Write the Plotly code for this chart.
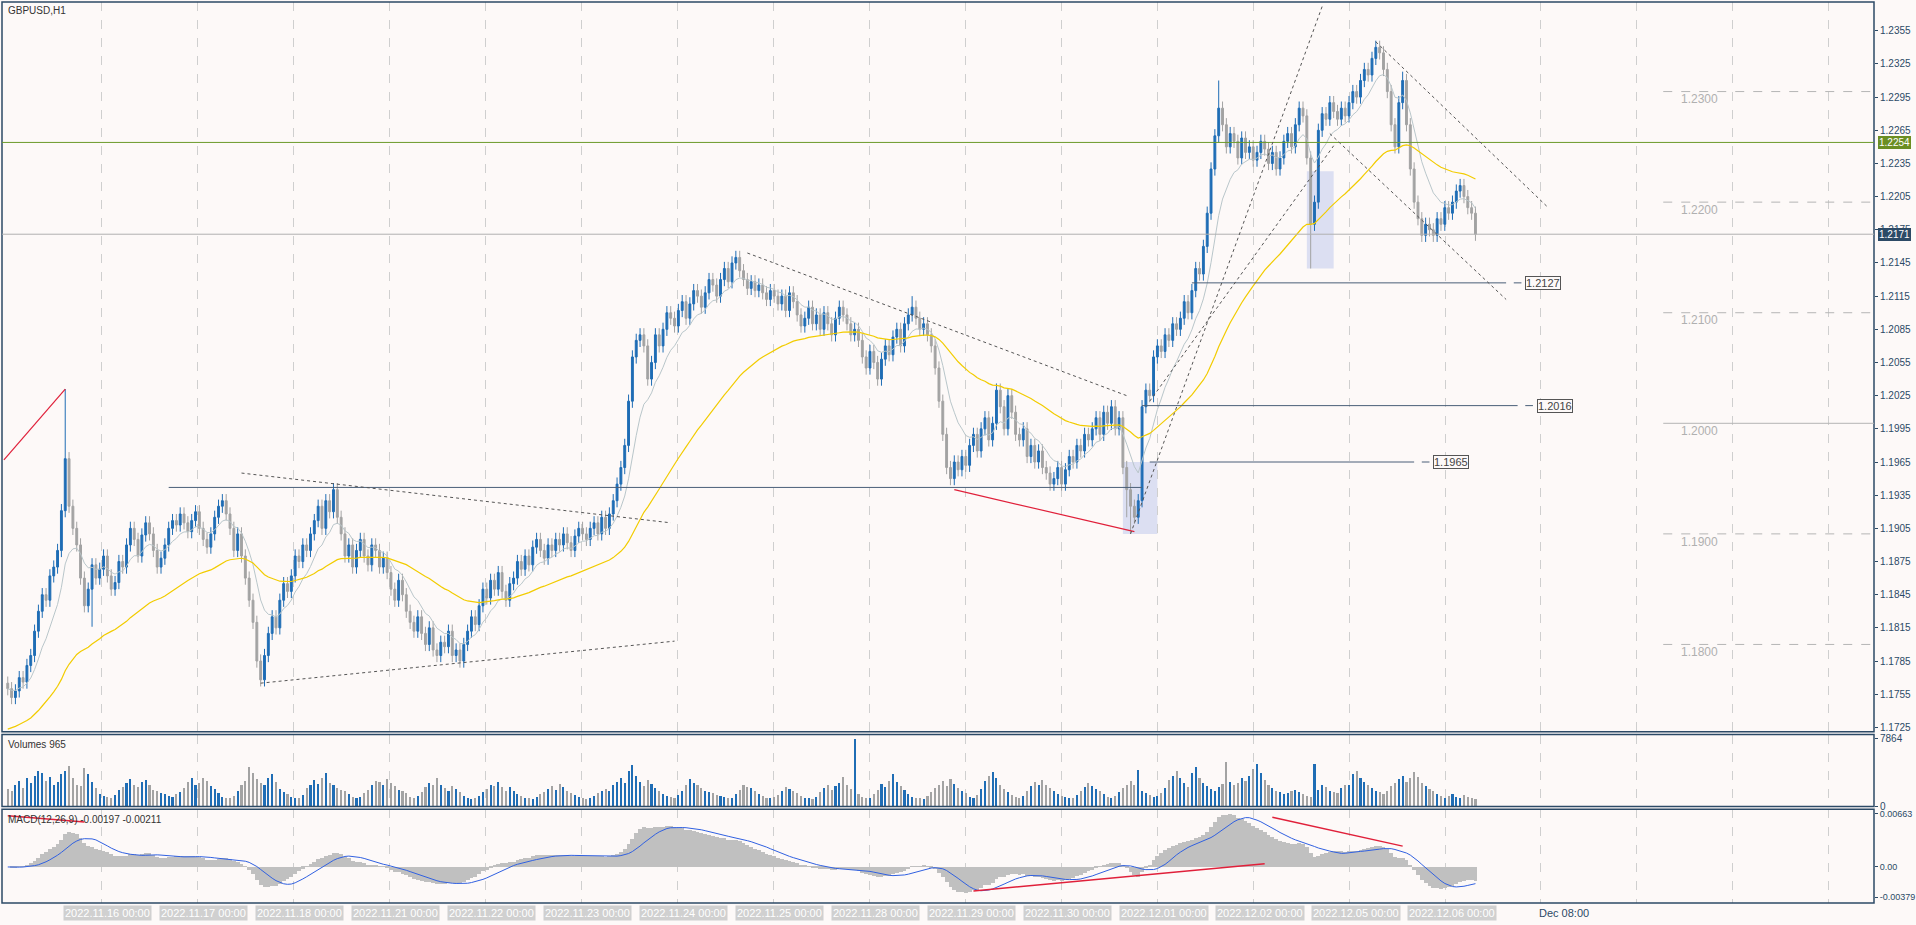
import plotly.graph_objects as go
import pandas as pd
import numpy as np

closes = [
1.1760,1.1752,1.1758,1.1770,1.1766,1.1781,1.1790,1.1812,1.1830,1.1845,1.1840,1.1862,
1.1870,1.1885,1.1921,1.1968,1.1925,1.1905,1.1890,1.1860,1.1835,1.1850,1.1872,1.1860,
1.1868,1.1880,1.1862,1.1850,1.1856,1.1875,1.1870,1.1890,1.1905,1.1895,1.1880,1.1899,
1.1910,1.1900,1.1885,1.1870,1.1878,1.1890,1.1905,1.1912,1.1908,1.1918,1.1910,1.1902,
1.1912,1.1920,1.1905,1.1895,1.1888,1.1900,1.1915,1.1925,1.1930,1.1918,1.1905,1.1885,
1.1900,1.1880,1.1860,1.1840,1.1820,1.1785,1.1768,1.1790,1.1810,1.1825,1.1815,1.1840,
1.1855,1.1848,1.1862,1.1880,1.1875,1.1890,1.1885,1.1900,1.1912,1.1925,1.1905,1.1930,
1.1920,1.1940,1.1915,1.1900,1.1880,1.1890,1.1870,1.1885,1.1895,1.1880,1.1872,1.1890,
1.1885,1.1870,1.1878,1.1865,1.1850,1.1840,1.1858,1.1845,1.1830,1.1820,1.1812,1.1825,
1.1810,1.1800,1.1815,1.1795,1.1790,1.1802,1.1798,1.1812,1.1790,1.1795,1.1785,1.1800,
1.1812,1.1825,1.1818,1.1835,1.1850,1.1842,1.1858,1.1850,1.1865,1.1848,1.1840,1.1855,
1.1860,1.1875,1.1868,1.1880,1.1872,1.1888,1.1895,1.1885,1.1878,1.1890,1.1885,1.1895,
1.1890,1.1900,1.1892,1.1885,1.1898,1.1905,1.1900,1.1895,1.1905,1.1910,1.1900,1.1915,
1.1905,1.1918,1.1930,1.1945,1.1960,1.1980,1.2020,1.2060,1.2075,1.2080,1.2070,1.2040,
1.2055,1.2080,1.2070,1.2085,1.2100,1.2095,1.2088,1.2102,1.2110,1.2095,1.2108,1.2120,
1.2115,1.2105,1.2118,1.2130,1.2125,1.2115,1.2130,1.2140,1.2128,1.2145,1.2150,1.2138,
1.2130,1.2122,1.2128,1.2120,1.2125,1.2118,1.2112,1.2120,1.2115,1.2108,1.2115,1.2102,
1.2118,1.2110,1.2098,1.2088,1.2095,1.2105,1.2090,1.2098,1.2085,1.2100,1.2090,1.2080,
1.2095,1.2105,1.2098,1.2090,1.2080,1.2085,1.2075,1.2060,1.2050,1.2065,1.2055,1.2040,
1.2058,1.2070,1.2062,1.2078,1.2085,1.2070,1.2090,1.2098,1.2105,1.2095,1.2085,1.2090,
1.2080,1.2070,1.2050,1.2020,1.1990,1.1960,1.1950,1.1965,1.1958,1.1970,1.1962,1.1980,
1.1990,1.1975,1.1995,1.2005,1.1985,1.2000,1.2030,1.2015,1.1995,1.2025,1.2010,1.1990,
1.1985,1.1995,1.1970,1.1980,1.1965,1.1975,1.1960,1.1955,1.1945,1.1950,1.1960,1.1945,
1.1958,1.1970,1.1965,1.1980,1.1975,1.1990,1.1985,1.1995,1.2005,1.1990,1.2010,1.2000,
1.2015,1.1995,1.2005,1.1960,1.1940,1.1925,1.1915,1.1930,1.2015,1.2030,1.2025,1.2060,
1.2070,1.2065,1.2080,1.2075,1.2090,1.2085,1.2095,1.2110,1.2100,1.2120,1.2140,1.2135,
1.2160,1.2190,1.2230,1.2260,1.2285,1.2270,1.2250,1.2262,1.2255,1.2240,1.2258,1.2245,
1.2250,1.2238,1.2245,1.2255,1.2248,1.2235,1.2245,1.2230,1.2240,1.2255,1.2262,1.2250,
1.2270,1.2285,1.2278,1.2240,1.2180,1.2200,1.2265,1.2280,1.2275,1.2290,1.2282,1.2275,
1.2285,1.2278,1.2290,1.2300,1.2295,1.2310,1.2320,1.2315,1.2330,1.2340,1.2335,1.2320,
1.2300,1.2270,1.2250,1.2290,1.2310,1.2270,1.2230,1.2200,1.2185,1.2170,1.2180,1.2175,
1.2170,1.2185,1.2180,1.2195,1.2190,1.2200,1.2210,1.2215,1.2205,1.2195,1.2190,1.2171,
]
first_open = 1.1765
high_spikes = {15: 1.2031, 190: 1.2155, 236: 1.2115, 316: 1.2310, 357: 1.2345, 364: 1.2318}
low_spikes = {22: 1.1816, 66: 1.1765, 118: 1.1780, 293: 1.1900, 340: 1.2140, 292: 1.1915}

volumes = [
2100,1800,2500,3000,2200,3400,2800,3600,4200,3900,3000,3500,
2600,2900,3800,4200,4700,3300,2600,2400,4500,3800,2900,2200,
1500,1300,1200,1100,1400,2000,2300,2800,3200,2600,2300,2900,
3100,2500,2000,1800,1600,1500,1300,1200,1500,1700,2200,2900,
3400,2600,2800,3300,3000,2400,2100,1600,1200,1100,1000,1300,
1800,2500,3000,4600,3900,3200,2800,2500,3300,3800,2900,2100,
1700,1500,1200,1000,1100,1400,2200,2600,3100,2700,3400,3900,
2800,2500,2200,2000,1800,1500,1200,1000,1200,1600,2000,2500,
3000,2900,2600,3200,2800,2400,2000,1900,1600,1200,1100,1300,
1700,2300,2800,2500,3300,2600,2200,1900,2400,2100,1700,1300,
1100,900,1000,1300,1700,2100,2600,2400,2900,2300,1900,2300,
1800,1500,1300,1100,1000,900,1200,1500,1700,2100,2400,2000,
2700,2300,1900,1600,1400,1200,1000,900,1100,1300,1600,1800,
2100,1900,2500,2900,3400,2800,4100,4800,3600,2900,2400,3100,
2700,2200,1800,1500,1300,1200,1100,1400,1900,2600,3200,2800,
2500,2200,1900,1700,1600,1400,1300,1200,1100,1000,1500,2000,
2500,2300,2200,1800,1500,1300,1100,1000,1200,1400,1800,2300,
2100,1900,1600,1300,1100,1000,900,1200,1700,2200,2600,2000,
2400,2800,3500,2500,2100,7864,1500,1200,1000,1100,1500,2000,
2700,2300,3000,3800,2900,2400,2000,1500,1200,1100,1000,900,
1300,1700,2200,2600,3000,2400,3200,2700,2200,1800,1600,1200,
1000,1400,2100,3000,3600,4000,3300,2600,2100,1700,1400,1200,
1100,1300,1900,2400,2900,2500,3100,2600,2200,1800,1500,1300,
1200,1100,1000,1400,1900,2300,2800,2400,2100,1800,1500,1200,
1100,1300,1700,2200,2600,3000,2500,4300,1800,1600,1400,1200,
1300,1600,2200,3100,3600,4200,3300,2800,2300,3900,4600,3400,
2800,2400,2100,1800,2300,2700,5200,2900,2500,2800,3400,3000,
3600,4400,5000,3900,3100,2600,2200,1900,1700,1500,1600,1800,
2000,1700,1500,1300,1200,5000,2000,2500,2300,1900,1700,1600,
2200,2600,2500,3800,4100,3400,2900,2600,2200,1900,1700,1500,
1900,2400,2800,3200,3600,2900,3300,4000,3500,2800,2400,2100,
1800,1500,1300,1100,1300,1500,1200,1000,1400,1200,1100,965,
]

day_labels = ["2022.11.16 00:00","2022.11.17 00:00","2022.11.18 00:00","2022.11.21 00:00",
              "2022.11.22 00:00","2022.11.23 00:00","2022.11.24 00:00","2022.11.25 00:00",
              "2022.11.28 00:00","2022.11.29 00:00","2022.11.30 00:00","2022.12.01 00:00",
              "2022.12.02 00:00","2022.12.05 00:00","2022.12.06 00:00"]
price_ticks = [round(1.1725 + 0.003*i, 4) for i in range(22)]
level_lines = [1.2300, 1.2200, 1.2100, 1.2000, 1.1900, 1.1800]

n = len(closes)
x = list(range(n))
opens = [first_open] + closes[:-1]
highs = [max(o, c) + 0.0006 for o, c in zip(opens, closes)]
lows = [min(o, c) - 0.0006 for o, c in zip(opens, closes)]
for k, v in high_spikes.items(): highs[k] = max(highs[k], v)
for k, v in low_spikes.items(): lows[k] = min(lows[k], v)

s = pd.Series(closes)
ma_fast = s.ewm(span=10, adjust=False).mean()
ma_slow = pd.Series([1.1722] * 30 + closes).ewm(span=50, adjust=False).mean().iloc[30:].reset_index(drop=True)
macd = s.ewm(span=12, adjust=False).mean() - s.ewm(span=26, adjust=False).mean()
signal = macd.rolling(9, min_periods=1).mean()

BG = "#fdf9f8"
AX = "#2c4a66"
BLUE = "#1f6db5"
GRAY = "#a3a3a3"
FONT = "Liberation Sans"

fig = go.Figure()
main_dom = [0.190, 1.0]
vol_dom = [0.107, 0.187]
macd_dom = [0.0, 0.104]
XR = [-1.5, 487]
STEP = 25.04

fig.add_trace(go.Candlestick(x=x, open=opens, high=highs, low=lows, close=closes,
    increasing=dict(line=dict(color=BLUE, width=1), fillcolor=BLUE),
    decreasing=dict(line=dict(color=GRAY, width=1), fillcolor=GRAY),
    whiskerwidth=0, showlegend=False, hoverinfo="skip", xaxis="x", yaxis="y"))
fig.add_trace(go.Scatter(x=x, y=ma_fast, mode="lines", line=dict(color="#b9c6ca", width=1),
    showlegend=False, hoverinfo="skip", xaxis="x", yaxis="y"))
fig.add_trace(go.Scatter(x=x, y=ma_slow, mode="lines", line=dict(color="#f2cc00", width=1.2),
    showlegend=False, hoverinfo="skip", xaxis="x", yaxis="y"))

vcol = [BLUE if c >= o else GRAY for o, c in zip(opens, closes)]
fig.add_trace(go.Bar(x=x, y=volumes, marker=dict(color=vcol, line=dict(width=0)), width=0.55,
    showlegend=False, hoverinfo="skip", xaxis="x2", yaxis="y2"))

fig.add_trace(go.Bar(x=x, y=macd, marker=dict(color="#c0c0c0", line=dict(width=0)), width=1.0,
    showlegend=False, hoverinfo="skip", xaxis="x3", yaxis="y3"))
fig.add_trace(go.Scatter(x=x, y=signal, mode="lines", line=dict(color="#3060e0", width=1),
    showlegend=False, hoverinfo="skip", xaxis="x3", yaxis="y3"))

gridvals = [24.5 + STEP * k for k in range(0, 19)]
xcommon = dict(range=XR, showticklabels=False, zeroline=False, showline=False,
               tickvals=gridvals, showgrid=True, gridcolor="#cfcfcf", griddash="dash", gridwidth=1, ticks="")
yright = dict(side="right", showgrid=False, zeroline=False, ticks="outside", ticklen=3,
              tickcolor=AX, showline=False)

fig.update_layout(
    width=1916, height=925, paper_bgcolor=BG, plot_bgcolor=BG,
    margin=dict(l=2, r=42, t=2, b=22, autoexpand=False),
    xaxis=dict(domain=[0, 1], anchor="y", **xcommon),
    xaxis2=dict(domain=[0, 1], anchor="y2", matches="x", **xcommon),
    xaxis3=dict(domain=[0, 1], anchor="y3", matches="x", **xcommon),
    yaxis=dict(domain=main_dom, range=[1.1721, 1.2381], tickvals=price_ticks,
               ticktext=[f"{v:.4f}" for v in price_ticks],
               tickfont=dict(family=FONT, size=10, color=AX), **yright),
    yaxis2=dict(domain=vol_dom, range=[0, 8300], tickvals=[0, 7864], ticktext=["0", "7864"],
                tickfont=dict(family=FONT, size=10, color=AX), **yright),
    yaxis3=dict(domain=macd_dom, range=[-0.0045, 0.0072], tickvals=[0.00663, 0, -0.00379],
                ticktext=["0.00663", "0.00", "-0.00379"],
                tickfont=dict(family=FONT, size=9, color=AX), **yright),
    bargap=0, showlegend=False, hovermode=False,
    font=dict(family=FONT, size=11, color=AX),
)
fig.update_xaxes(rangeslider_visible=False)

shapes = []
for dom in (main_dom, vol_dom, macd_dom):
    shapes.append(dict(type="rect", xref="paper", yref="paper", x0=0, x1=1, y0=dom[0], y1=dom[1],
                       line=dict(color=AX, width=1.5), layer="above"))

def seg(x0, y0, x1, y1, color, dash="solid", width=1, yref="y", xref="x"):
    shapes.append(dict(type="line", xref=xref, yref=yref, x0=x0, y0=y0, x1=x1, y1=y1,
                       line=dict(color=color, width=width, dash=dash)))

seg(0, 1.2254, 1, 1.2254, "#6b9a2a", xref="paper")
seg(0, 1.2171, 1, 1.2171, "#b0b0b0", xref="paper")
for lv in level_lines:
    seg(432, lv, 487, lv, "#b5b5b5", dash="solid" if lv == 1.2000 else "dash")
seg(42, 1.1942, 296, 1.1942, "#4a5f78")
seg(309, 1.2127, 391, 1.2127, "#4a5f78"); seg(393, 1.2127, 395, 1.2127, "#4a5f78")
seg(296, 1.2016, 394, 1.2016, "#4a5f78"); seg(396, 1.2016, 398, 1.2016, "#4a5f78")
seg(298, 1.1965, 367, 1.1965, "#4a5f78"); seg(369, 1.1965, 371, 1.1965, "#4a5f78")
seg(-1, 1.1967, 15, 1.2031, "#e0203a", width=1.2)
seg(247, 1.1940, 294, 1.1902, "#e0203a", width=1.2)
for (a, b, c, d) in [(61, 1.1955, 173, 1.1910), (66, 1.1765, 174, 1.1803),
                     (193, 1.2154, 292, 1.2025), (293, 1.1900, 343, 1.2377),
                     (298, 1.2020, 346, 1.2251), (357, 1.2345, 402, 1.2195),
                     (345, 1.2262, 391, 1.2112)]:
    seg(a, b, c, d, "#555555", dash="dot")
shapes.append(dict(type="rect", xref="x", yref="y", x0=291, x1=300, y0=1.1900, y1=1.1965,
                   fillcolor="rgba(180,190,235,0.45)", line=dict(width=0), layer="below"))
shapes.append(dict(type="rect", xref="x", yref="y", x0=339, x1=346, y0=1.2140, y1=1.2228,
                   fillcolor="rgba(180,190,235,0.45)", line=dict(width=0), layer="below"))
seg(0, 0.0064, 20, 0.0056, "#e0203a", yref="y3", width=1.5)
seg(252, -0.0030, 328, 0.0004, "#e0203a", yref="y3", width=1.5)
seg(330, 0.0062, 364, 0.0026, "#e0203a", yref="y3", width=1.5)
fig.update_layout(shapes=shapes)

ann = []
def lab(xv, yv, text, bg, fg, xref="x", yref="y", xanchor="left", border=None, size=11):
    ann.append(dict(x=xv, y=yv, xref=xref, yref=yref, text=text, showarrow=False, xanchor=xanchor,
                    yanchor="middle", bgcolor=bg, font=dict(family=FONT, size=size, color=fg),
                    bordercolor=border or bg, borderwidth=1, borderpad=0))
lab(1.002, 1.2254, "1.2254", "#6b8e23", "white", xref="paper", size=10)
lab(1.002, 1.2171, "1.2171", AX, "white", xref="paper", size=10)
lab(396, 1.2127, "1.2127", BG, "#444", border="#555")
lab(399, 1.2016, "1.2016", BG, "#444", border="#555")
lab(372, 1.1965, "1.1965", BG, "#444", border="#555")
for lv in level_lines:
    ann.append(dict(x=436, y=lv - 0.0007, xref="x", yref="y", text=f"{lv:.4f}", showarrow=False,
                    xanchor="left", yanchor="middle", font=dict(family=FONT, size=12, color="#b0b0b0")))
ann.append(dict(x=0.002, y=0.999, xref="paper", yref="paper", text="GBPUSD,H1", showarrow=False,
                xanchor="left", yanchor="top", font=dict(family=FONT, size=10, color="#333")))
ann.append(dict(x=0.002, y=vol_dom[1] - 0.003, xref="paper", yref="paper", text="Volumes 965",
                showarrow=False, xanchor="left", yanchor="top", font=dict(family=FONT, size=10, color="#333")))
ann.append(dict(x=0.002, y=macd_dom[1] - 0.003, xref="paper", yref="paper",
                text="MACD(12,26,9) -0.00197 -0.00211", showarrow=False, xanchor="left", yanchor="top",
                font=dict(family=FONT, size=10, color="#333")))
for i, t in enumerate(day_labels):
    ann.append(dict(x=14.5 + STEP * i, y=-0.002, xref="x", yref="paper", text=t, showarrow=False,
                    xanchor="left", yanchor="top", bgcolor="#d0d0d0", borderpad=1,
                    font=dict(family=FONT, size=11, color="white")))
ann.append(dict(x=14.5 + STEP * 14 + 34, y=-0.002, xref="x", yref="paper", text="Dec 08:00",
                showarrow=False, xanchor="left", yanchor="top", borderpad=1,
                font=dict(family=FONT, size=11, color=AX)))
fig.update_layout(annotations=ann)

fig.write_html("out.html", config={"displayModeBar": False},
               post_script="document.body.style.margin='0';document.body.style.overflow='hidden';")
